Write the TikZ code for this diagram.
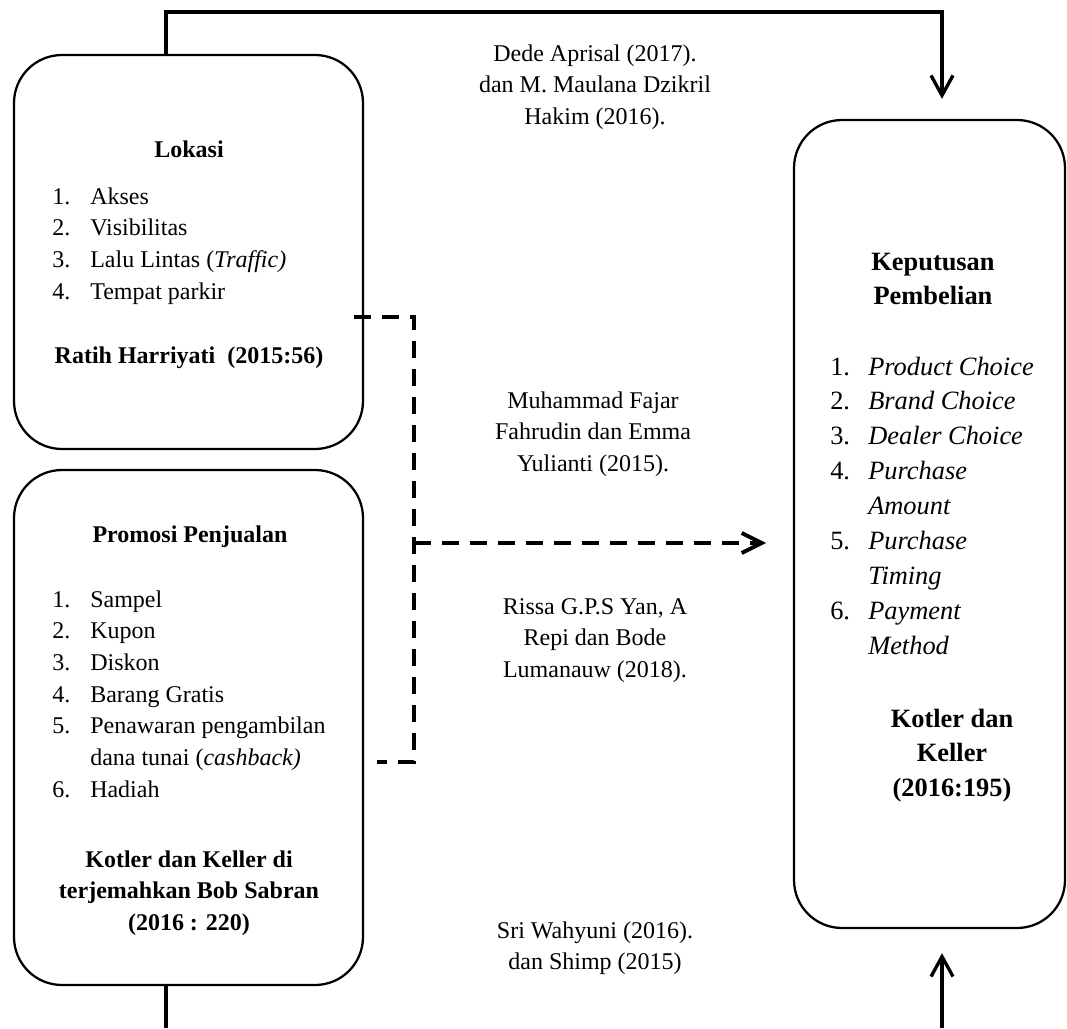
\documentclass[tikz,border=0pt]{standalone}
\usepackage{fontspec}
\setmainfont{Liberation Serif}
\usetikzlibrary{arrows.meta, positioning, calc}

\begin{document}
\begin{tikzpicture}[
  x=0.75pt, y=-0.75pt,
  box/.style={draw=black, line width=1.7pt, rounded corners=36pt, inner sep=0pt},
  txt/.style={inner sep=0pt, anchor=base, font=\fontsize{18}{23.8}\selectfont},
  big/.style={inner sep=0pt, anchor=base, font=\fontsize{19.8}{26.2}\selectfont},
  link/.style={line width=2.5pt, -{Straight Barb[length=15pt, width=16.5pt]}},
  stub/.style={line width=2.5pt},
  dashlink/.style={line width=3pt, dash pattern=on 13pt off 8pt}
]
\useasboundingbox (0,0) rectangle (1067,1028);

% the three boxes
\node[box, minimum width=261.75pt, minimum height=295.5pt] (lokasi) at (188.5,252) {};
\node[box, minimum width=261.75pt, minimum height=386.25pt] (promosi) at (188.5,727.5) {};
\node[box, minimum width=203.25pt, minimum height=606pt] (keputusan) at (929.5,524) {};

% Lokasi
\node[txt] (lokasiTitle) at (189,157) {\textbf{Lokasi}};
\node[txt, anchor=base west] (lokasiList) at (52,204) {\begin{tabular}[t]{@{}p{28.5pt}@{}l@{}}
1. & Akses\\
2. & Visibilitas\\
3. & Lalu Lintas (\textit{Traffic)}\\
4. & Tempat parkir
\end{tabular}};
\node[txt] (lokasiSrc) at (189,363) {\textbf{Ratih Harriyati\ \ (2015:56)}};

% Promosi Penjualan
\node[txt] (promosiTitle) at (190,542) {\textbf{Promosi Penjualan}};
\node[txt, anchor=base west] (promosiList) at (52,607) {\begin{tabular}[t]{@{}p{28.5pt}@{}l@{}}
1. & Sampel\\
2. & Kupon\\
3. & Diskon\\
4. & Barang Gratis\\
5. & Penawaran pengambilan\\
   & dana tunai (\textit{cashback)}\\
6. & Hadiah
\end{tabular}};
\node[txt] (promosiSrc) at (189,867) {\bfseries\begin{tabular}[t]{@{}c@{}}
Kotler dan Keller di\\
terjemahkan Bob Sabran\\
(2016 : 220)
\end{tabular}};

% Keputusan Pembelian
\node[big] (keputusanTitle) at (933,270) {\bfseries\begin{tabular}[t]{@{}c@{}}
Keputusan\\
Pembelian
\end{tabular}};
\node[big, anchor=base west] (keputusanList) at (830,375) {\begin{tabular}[t]{@{}p{28.5pt}@{}l@{}}
1. & \textit{Product Choice}\\
2. & \textit{Brand Choice}\\
3. & \textit{Dealer Choice}\\
4. & \textit{Purchase}\\
   & \textit{Amount}\\
5. & \textit{Purchase}\\
   & \textit{Timing}\\
6. & \textit{Payment}\\
   & \textit{Method}
\end{tabular}};
\node[big] (keputusanSrc) at (952,727) {\bfseries\begin{tabular}[t]{@{}c@{}}
Kotler dan\\
Keller\\
(2016:195)
\end{tabular}};

% references in the middle
\node[txt] (refA) at (595,61) {\begin{tabular}[t]{@{}c@{}}
Dede Aprisal (2017).\\
dan M. Maulana Dzikril\\
Hakim (2016).
\end{tabular}};
\node[txt] (refB) at (593,408) {\begin{tabular}[t]{@{}c@{}}
Muhammad Fajar\\
Fahrudin dan Emma\\
Yulianti (2015).
\end{tabular}};
\node[txt] (refC) at (595,614) {\begin{tabular}[t]{@{}c@{}}
Rissa G.P.S Yan, A\\
Repi dan Bode\\
Lumanauw (2018).
\end{tabular}};
\node[txt] (refD) at (595,938) {\begin{tabular}[t]{@{}c@{}}
Sri Wahyuni (2016).\\
dan Shimp (2015)
\end{tabular}};

% connectors
\coordinate (topL) at (166,12);
\coordinate (topR) at (942,12);
\coordinate (botL) at (166,1028);
\coordinate (botR) at (942,1028);
\coordinate (joinTop) at (414,317);
\coordinate (joinMid) at (414,543);
\coordinate (joinBot) at (414,762);

\draw[link, shorten >=15pt] (lokasi.north -| topL) -- (topL) -- (topR) -- (keputusan.north -| topR);
\draw[stub] (promosi.south -| botL) -- (botL);
\draw[link, shorten >=18pt] (botR) -- (keputusan.south -| botR);
\draw[dashlink] ($(lokasi.east |- joinTop)+(-10,0)$) -- (joinTop) -- (joinBot) -- ($(promosi.east |- joinBot)+(13,0)$);
\draw[dashlink, -{Straight Barb[length=15pt, width=15pt]}, shorten >=20pt] (joinMid) -- (keputusan.west |- joinMid);

\end{tikzpicture}
\end{document}
